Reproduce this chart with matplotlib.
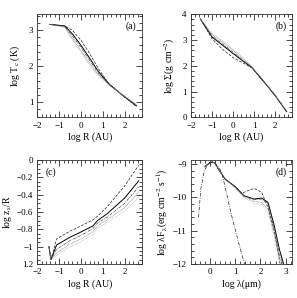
import matplotlib
matplotlib.use("Agg")
import matplotlib.pyplot as plt
from matplotlib.ticker import MultipleLocator, FixedLocator

# ---- panel (a): log T_c vs log R ----
ra = [-1.45, -0.75, -0.4, 0.0, 0.4, 0.8, 1.3, 1.9, 2.55]
ta_solid = [3.16, 3.12, 2.90, 2.58, 2.22, 1.85, 1.50, 1.20, 0.90]
ta_dash = [3.16, 3.12, 3.00, 2.72, 2.35, 1.93, 1.50, 1.19, 0.88]
ta_dashdot = [3.16, 3.11, 2.85, 2.52, 2.16, 1.81, 1.49, 1.20, 0.91]
ta_dot = [3.16, 3.09, 2.78, 2.43, 2.08, 1.76, 1.48, 1.21, 0.93]
ta_dot2 = [3.16, 3.07, 2.74, 2.38, 2.03, 1.73, 1.47, 1.21, 0.95]

# ---- panel (b): log Sigma vs log R ----
rb = [-1.55, -1.0, -0.5, 0.0, 0.5, 0.9, 1.5, 2.0, 2.55]
sb_solid = [3.82, 3.12, 2.80, 2.48, 2.17, 1.93, 1.35, 0.85, 0.22]
sb_dash = [3.82, 3.05, 2.64, 2.32, 2.10, 1.92, 1.35, 0.85, 0.22]
sb_dashdot = [3.82, 3.15, 2.85, 2.53, 2.20, 1.94, 1.36, 0.85, 0.23]
sb_dot = [3.82, 3.22, 2.92, 2.60, 2.26, 1.95, 1.37, 0.86, 0.24]
sb_dot2 = [3.82, 3.27, 2.98, 2.65, 2.30, 1.97, 1.38, 0.87, 0.25]

# ---- panel (c): log z_s/R vs log R ----
rc = [-1.47, -1.38, -1.12, -0.5, 0.0, 0.55, 0.75, 1.2, 2.0, 2.65]
zc_dash = [-1.00, -1.15, -0.91, -0.82, -0.76, -0.69, -0.65, -0.54, -0.30, -0.06]
zc_solid = [-1.00, -1.15, -0.98, -0.89, -0.83, -0.76, -0.70, -0.62, -0.44, -0.24]
zc_dashdot = [-1.00, -1.15, -1.03, -0.93, -0.87, -0.79, -0.73, -0.66, -0.50, -0.31]
zc_dot = [-1.00, -1.15, -1.07, -0.97, -0.91, -0.83, -0.76, -0.69, -0.55, -0.37]
zc_dot2 = [-1.00, -1.15, -1.10, -1.00, -0.94, -0.86, -0.79, -0.72, -0.59, -0.43]

# ---- panel (d): SED ----
wd = [-0.2, 0.0, 0.1, 0.2, 0.35, 0.6, 1.0, 1.35, 1.75, 2.05, 2.3, 2.55, 2.75, 2.92]
fd_solid = [-9.08, -8.96, -8.94, -8.97, -9.17, -9.45, -9.68, -9.95, -10.05,
            -10.02, -10.15, -10.85, -11.55, -12.0]
wd_dash = [-0.2, 0.0, 0.1, 0.2, 0.35, 0.6, 1.0, 1.25, 1.5, 1.75, 2.05, 2.3, 2.55, 2.78]
fd_dash = [-9.08, -8.96, -8.94, -8.97, -9.17, -9.45, -9.68, -9.88, -9.80, -9.73,
           -9.85, -10.30, -11.00, -12.0]
fd_dashdot = [-9.08, -8.96, -8.94, -8.97, -9.17, -9.45, -9.68, -9.96, -10.07,
              -10.05, -10.20, -10.95, -11.70, -12.0]
wd_dot = [-0.2, 0.0, 0.1, 0.2, 0.35, 0.6, 1.0, 1.35, 1.75, 2.05, 2.3, 2.55, 2.75, 2.88]
fd_dot = [-9.08, -8.96, -8.94, -8.97, -9.17, -9.46, -9.70, -9.98, -10.12,
          -10.15, -10.35, -11.10, -11.80, -12.0]
wd_dot2 = [-0.2, 0.0, 0.1, 0.2, 0.35, 0.6, 1.0, 1.35, 1.75, 2.05, 2.3, 2.55, 2.75, 2.85]
fd_dot2 = [-9.08, -8.96, -8.94, -8.97, -9.18, -9.47, -9.72, -10.01, -10.18,
           -10.22, -10.45, -11.20, -11.90, -12.0]
w_star = [-0.45, -0.36, -0.23, -0.1, 0.0, 0.09, 0.3, 0.47, 0.86, 1.1, 1.37]
f_star = [-10.6, -9.75, -9.22, -9.02, -8.95, -8.93, -9.05, -9.25, -10.55, -11.25, -12.0]

plt.rcParams["font.family"] = ["Liberation Serif", "DejaVu Serif"]
plt.rcParams["mathtext.fontset"] = "stix"
FS = 6.5

STYLES = [
    dict(ls="-", color="black", lw=0.7),
    dict(ls=(0, (4, 2)), color="#222222", lw=0.5),
    dict(ls=(0, (4, 1.5, 1, 1.5)), color="#444444", lw=0.5),
    dict(ls=(0, (1, 1)), color="#666666", lw=0.5),
    dict(ls=(0, (0.8, 1.2)), color="#999999", lw=0.5),
]


def style_axes(ax, xmaj, xmin, ymaj, ymin):
    ax.xaxis.set_major_locator(MultipleLocator(xmaj))
    ax.xaxis.set_minor_locator(MultipleLocator(xmin))
    ax.yaxis.set_major_locator(MultipleLocator(ymaj))
    ax.yaxis.set_minor_locator(MultipleLocator(ymin))
    ax.tick_params(which="both", direction="in", top=True, right=True,
                   labelsize=FS, width=0.5, pad=3)
    ax.tick_params(which="major", length=4)
    ax.tick_params(which="minor", length=2)
    for s in ax.spines.values():
        s.set_linewidth(0.6)
        s.set_color("#333333")


fig = plt.figure(figsize=(2.97, 2.98), dpi=100)
axa = fig.add_axes([0.126, 0.606, 0.352, 0.346])
axb = fig.add_axes([0.643, 0.606, 0.340, 0.346])
axc = fig.add_axes([0.126, 0.114, 0.352, 0.349])
axd = fig.add_axes([0.643, 0.114, 0.340, 0.349])

# (a)
for ys, st in zip([ta_solid, ta_dash, ta_dashdot, ta_dot, ta_dot2], STYLES):
    axa.plot(ra, ys, **st)
axa.set_xlim(-2, 2.8)
axa.set_ylim(0.58, 3.44)
style_axes(axa, 1, 0.2, 1, 0.2)
axa.set_xlabel("log R (AU)", fontsize=FS + 0.5, labelpad=2)
axa.set_ylabel(r"log T$_{\rm c}$ (K)", fontsize=FS + 0.5, labelpad=5)
axa.text(0.95, 0.93, "(a)", transform=axa.transAxes, ha="right", va="top", fontsize=FS + 0.5)

# (b)
for ys, st in zip([sb_solid, sb_dash, sb_dashdot, sb_dot, sb_dot2], STYLES):
    axb.plot(rb, ys, **st)
axb.set_xlim(-2, 2.8)
axb.set_ylim(0, 4)
style_axes(axb, 1, 0.2, 1, 0.2)
axb.set_xlabel("log R (AU)", fontsize=FS + 0.5, labelpad=2)
axb.set_ylabel(r"log Σ(g cm$^{-2}$)", fontsize=FS + 0.5, labelpad=4)
axb.text(0.95, 0.93, "(b)", transform=axb.transAxes, ha="right", va="top", fontsize=FS + 0.5)

# (c)
for ys, st in zip([zc_solid, zc_dash, zc_dashdot, zc_dot, zc_dot2], STYLES):
    axc.plot(rc, ys, **st)
axc.set_xlim(-2, 2.8)
axc.set_ylim(-1.2, 0)
style_axes(axc, 1, 0.2, 0.2, 0.05)
axc.yaxis.set_major_locator(FixedLocator([0, -0.2, -0.4, -0.6, -0.8, -1.0, -1.2]))
axc.set_yticklabels(["0", "\u22120.2", "\u22120.4", "\u22120.6", "\u22120.8", "\u22121", "1.2"])
axc.set_xlabel("log R (AU)", fontsize=FS + 0.5, labelpad=2)
axc.set_ylabel(r"log z$_{\rm s}$/R", fontsize=FS + 0.5, labelpad=2)
axc.text(0.08, 0.93, "(c)", transform=axc.transAxes, ha="left", va="top", fontsize=FS + 0.5)

# (d)
axd.plot(wd, fd_solid, **STYLES[0])
axd.plot(wd_dash, fd_dash, **STYLES[1])
axd.plot(wd, fd_dashdot, **STYLES[2])
axd.plot(wd_dot, fd_dot, **STYLES[3])
axd.plot(wd_dot2, fd_dot2, **STYLES[4])
axd.plot(w_star, f_star, ls=(0, (5, 2, 1, 2)), color="#222222", lw=0.5)
axd.set_xlim(-0.75, 3.25)
axd.set_ylim(-12, -8.88)
style_axes(axd, 1, 0.2, 1, 0.2)
axd.set_xlabel("log λ(μm)", fontsize=FS + 0.5, labelpad=2)
axd.set_ylabel(r"log λF$_{\rm λ}$(erg cm$^{-2}$ s$^{-1}$)", fontsize=FS + 0.5, labelpad=2)
axd.text(0.95, 0.93, "(d)", transform=axd.transAxes, ha="right", va="top", fontsize=FS + 0.5)

fig.patch.set_facecolor("white")
fig.savefig("out.png", dpi=100, facecolor="white")
